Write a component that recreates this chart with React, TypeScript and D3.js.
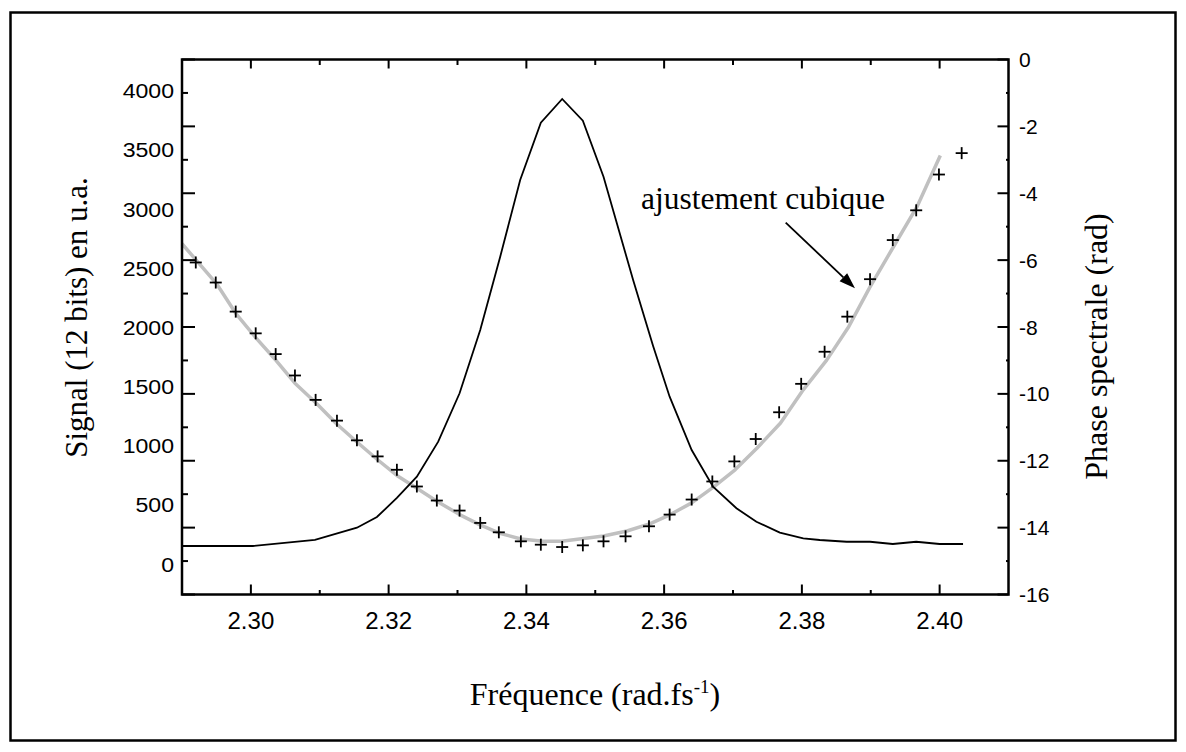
import React from "react";
import * as d3 from "d3";

// ---- Data ----
const signalFreq = [2.29, 2.3003, 2.3093, 2.3154, 2.3183, 2.3212, 2.3241, 2.3272, 2.3303, 2.3333, 2.3362, 2.3391, 2.3421, 2.3452, 2.3482, 2.3512, 2.3555, 2.3584, 2.3608, 2.364, 2.3671, 2.3705, 2.3734, 2.3768, 2.3802, 2.3826, 2.3865, 2.3899, 2.3932, 2.3966, 2.4, 2.4034];
const signalValue = [152, 152, 203, 307, 397, 558, 738, 1034, 1443, 1977, 2597, 3245, 3729, 3930, 3746, 3273, 2400, 1842, 1414, 963, 653, 471, 357, 265, 217, 203, 188, 188, 169, 188, 169, 169];

const phaseFreq = [2.292, 2.2949, 2.2978, 2.3007, 2.3036, 2.3064, 2.3094, 2.3125, 2.3154, 2.3184, 2.3212, 2.3241, 2.327, 2.3303, 2.3333, 2.336, 2.3392, 2.3421, 2.3452, 2.3482, 2.3512, 2.3544, 2.3578, 2.3608, 2.364, 2.367, 2.3702, 2.3733, 2.3767, 2.3799, 2.3833, 2.3866, 2.3899, 2.3932, 2.3966, 2.3999, 2.4032];
const phaseValue = [-6.07, -6.67, -7.54, -8.19, -8.81, -9.45, -10.18, -10.8, -11.39, -11.87, -12.27, -12.77, -13.19, -13.49, -13.86, -14.14, -14.41, -14.51, -14.58, -14.53, -14.41, -14.26, -13.96, -13.61, -13.16, -12.62, -12.02, -11.35, -10.55, -9.7, -8.74, -7.69, -6.57, -5.4, -4.51, -3.44, -2.8];

const fitFreq = [2.29, 2.295, 2.2978, 2.3008, 2.3037, 2.3064, 2.3095, 2.3125, 2.3154, 2.3184, 2.3212, 2.3241, 2.327, 2.3303, 2.3332, 2.336, 2.3392, 2.3424, 2.3451, 2.3512, 2.3546, 2.358, 2.3609, 2.364, 2.3672, 2.3703, 2.3735, 2.3769, 2.3802, 2.3836, 2.3868, 2.3899, 2.3933, 2.3967, 2.4001];
const fitValue = [-5.51, -6.7, -7.59, -8.34, -9.01, -9.68, -10.28, -10.91, -11.44, -11.97, -12.44, -12.82, -13.21, -13.61, -13.91, -14.16, -14.34, -14.41, -14.41, -14.25, -14.1, -13.88, -13.61, -13.26, -12.78, -12.27, -11.62, -10.87, -9.88, -8.99, -7.99, -6.8, -5.6, -4.41, -2.87];

const xMajorTicks = [2.3, 2.32, 2.34, 2.36, 2.38, 2.4];
const xMinorTicks = [2.31, 2.33, 2.35, 2.37, 2.39];
const xTickLabels = ["2.30", "2.32", "2.34", "2.36", "2.38", "2.40"];
const phaseTicks = [-16, -15, -14, -13, -12, -11, -10, -9, -8, -7, -6, -5, -4, -3, -2, -1, 0];
const phaseLabels = [0, -2, -4, -6, -8, -10, -12, -14, -16];
const signalLabels = [0, 500, 1000, 1500, 2000, 2500, 3000, 3500, 4000];

const SANS = "Liberation Sans, Arial, Helvetica, sans-serif";
const SERIF = "Liberation Serif, Times New Roman, Times, DejaVu Serif, serif";

export default function App() {
  const W = 1186, H = 752;
  const L = 182, R = 1008.5, T = 59.5, B = 594.5;
  const x = d3.scaleLinear().domain([2.29, 2.41]).range([L, R]);
  const yP = d3.scaleLinear().domain([-16, 0]).range([B, T]);
  const yS = d3.scaleLinear().domain([0, 4000]).range([564, 90.7]);

  const sigPath = d3.line<number>().x((_, i) => x(signalFreq[i])).y((d) => yS(d))(signalValue) || "";
  const fitPath = d3.line<number>().x((_, i) => x(fitFreq[i])).y((d) => yP(d))(fitValue) || "";

  const isMajor = (v: number) => Math.abs(v) % 2 === 0;

  // arrow geometry (annotation)
  const ax1 = 785.7, ay1 = 222.7, ax2 = 855, ay2 = 288.3;
  const ang = Math.atan2(ay2 - ay1, ax2 - ax1);
  const hl = 16, hw = 5.5;
  const bx = ax2 - hl * Math.cos(ang), by = ay2 - hl * Math.sin(ang);
  const head = `${ax2},${ay2} ${bx + hw * Math.sin(ang)},${by - hw * Math.cos(ang)} ${bx - hw * Math.sin(ang)},${by + hw * Math.cos(ang)}`;

  const serifStyle = { fontFamily: SERIF };
  const sansStyle = { fontFamily: SANS };

  return (
    <svg width={W} height={H} style={{ position: "absolute", left: 0, top: 0, background: "#fff" }}>
      <rect x={0} y={0} width={W} height={H} fill="#fff" />
      {/* outer border */}
      <rect x={10.5} y={12.5} width={1165} height={728} fill="none" stroke="#000" strokeWidth={2.5} />

      {/* fit curve */}
      <path d={fitPath} fill="none" stroke="#c0c0c0" strokeWidth={3.5} strokeLinejoin="round" />

      {/* phase crosses */}
      {phaseValue.map((v, i) => {
        const cx = x(phaseFreq[i]), cy = yP(v);
        return (
          <g key={"c" + i} stroke="#000" strokeWidth={1.8}>
            <line x1={cx - 6} x2={cx + 6} y1={cy} y2={cy} />
            <line x1={cx} x2={cx} y1={cy - 6} y2={cy + 6} />
          </g>
        );
      })}

      {/* signal */}
      <path d={sigPath} fill="none" stroke="#000" strokeWidth={1.8} strokeLinejoin="miter" />

      {/* frame */}
      <rect x={L} y={T} width={R - L} height={B - T} fill="none" stroke="#000" strokeWidth={2.5} />

      {/* x ticks */}
      {xMajorTicks.map((t, i) => (
        <g key={"xm" + i} stroke="#000" strokeWidth={2}>
          <line x1={x(t)} x2={x(t)} y1={B} y2={B - 10} />
          <line x1={x(t)} x2={x(t)} y1={T} y2={T + 9} />
        </g>
      ))}
      {xMinorTicks.map((t, i) => (
        <g key={"xn" + i} stroke="#000" strokeWidth={2}>
          <line x1={x(t)} x2={x(t)} y1={B} y2={B - 4.5} />
          <line x1={x(t)} x2={x(t)} y1={T} y2={T + 5.5} />
        </g>
      ))}
      {xMajorTicks.map((t, i) => (
        <text key={"xl" + i} x={x(t)} y={629} textAnchor="middle" style={sansStyle} fontSize={24}>
          {xTickLabels[i]}
        </text>
      ))}

      {/* left & right ticks (phase grid) */}
      {phaseTicks.map((t, i) => (
        <g key={"pt" + i} stroke="#000" strokeWidth={2}>
          <line x1={L} x2={L + (isMajor(t) ? 13 : 6)} y1={yP(t)} y2={yP(t)} />
          <line x1={R} x2={R - (isMajor(t) ? 11 : 2.5)} y1={yP(t)} y2={yP(t)} />
        </g>
      ))}

      {/* left labels (signal) */}
      {signalLabels.map((v, i) => (
        <text key={"sl" + i} transform={`translate(174,${yS(v) + 7.5}) scale(1.1,1)`} textAnchor="end" style={sansStyle} fontSize={21}>
          {v}
        </text>
      ))}

      {/* right labels (phase) */}
      {phaseLabels.map((v, i) => (
        <text key={"pl" + i} x={1019} y={yP(v) + 7.5} style={sansStyle} fontSize={21}>
          {v}
        </text>
      ))}

      {/* axis titles */}
      <text transform="translate(87,317.5) rotate(-90)" textAnchor="middle" style={serifStyle} fontSize={31}>
        Signal (12 bits) en u.a.
      </text>
      <text transform="translate(1107,346.5) rotate(-90)" textAnchor="middle" style={serifStyle} fontSize={32}>
        Phase spectrale (rad)
      </text>
      <text x={595} y={705} textAnchor="middle" style={serifStyle} fontSize={32}>
        Fréquence (rad.fs
        <tspan dy={-12} fontSize={19}>-1</tspan>
        <tspan dy={12}>)</tspan>
      </text>

      {/* annotation */}
      <text x={641} y={209} style={serifStyle} fontSize={31.5}>ajustement cubique</text>
      <line x1={ax1} y1={ay1} x2={bx} y2={by} stroke="#000" strokeWidth={1.8} />
      <polygon points={head} fill="#000" />
    </svg>
  );
}
